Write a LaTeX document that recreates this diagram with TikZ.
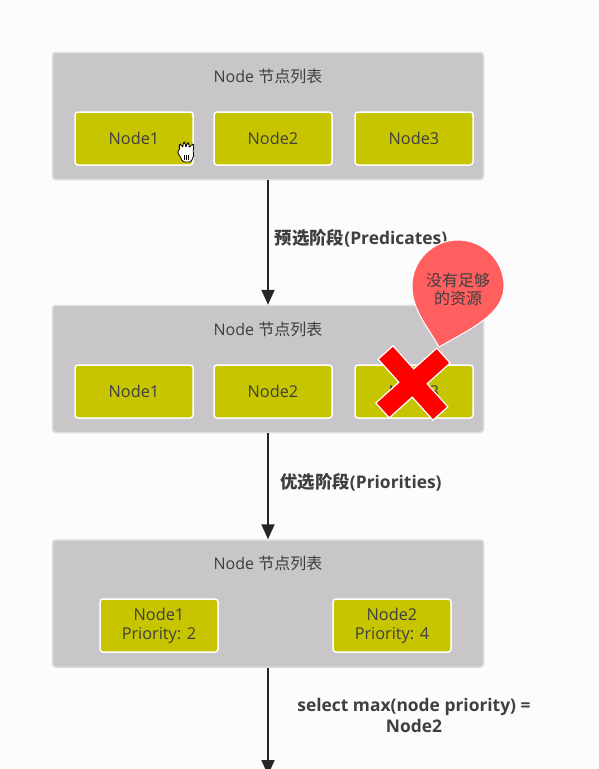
\documentclass[tikz,border=0pt]{standalone}
\usepackage{fontspec}
\setmainfont{Open Sans}
\newfontfamily\cjk{Noto Sans CJK SC}
\usepackage{xcolor}
\usetikzlibrary{arrows.meta}

\definecolor{PanelGray}{HTML}{C8C6C8}
\definecolor{PanelEdge}{HTML}{DEDDDE}
\definecolor{NodeOlive}{HTML}{C7C500}
\definecolor{TextDark}{HTML}{3F3F3F}
\definecolor{PinRed}{HTML}{FF5F5F}

\tikzset{
	panel/.style={draw=PanelEdge, fill=PanelGray, line width=1.5pt, rounded corners=3pt, minimum width=431pt, minimum height=127pt},
	nodebox/.style={draw=white, fill=NodeOlive, line width=1.5pt, rounded corners=3pt, minimum width=118pt, minimum height=53pt, text=TextDark, font=\fontsize{16.3}{19}\selectfont, align=center, inner sep=0pt},
	title/.style={text=TextDark, font=\fontsize{16}{19}\selectfont, inner sep=0pt},
	steplabel/.style={text=TextDark, font=\fontsize{17.4}{21}\selectfont\bfseries, align=center, inner sep=0pt},
	flow/.style={draw=black!85, line width=2pt, -{Triangle[length=15pt, width=13pt]}}
}

\begin{document}
\begin{tikzpicture}[x=1pt, y=-1pt]
	\clip (0,0) rectangle (599,769);
	\fill[white!99!black] (0,0) rectangle (599,769);

	\coordinate (End) at (268,775);

	% first list
	\node[panel] (ListA) at (268,116) {};
	\node[title] (TitleA) at (268,76) {Node {\cjk 节点列表}};
	\node[nodebox] (A1) at (134,138.5) {Node1};
	\node[nodebox] (A2) at (273,138.5) {Node2};
	\node[nodebox] (A3) at (414,138.5) {Node3};

	% second list
	\node[panel] (ListB) at (268,369) {};
	\node[title] (TitleB) at (268,329) {Node {\cjk 节点列表}};
	\node[nodebox] (B1) at (134,391.5) {Node1};
	\node[nodebox] (B2) at (273,391.5) {Node2};
	\node[nodebox] (B3) at (414,391.5) {Node3};

	% third list
	\node[panel] (ListC) at (268,603.5) {};
	\node[title] (TitleC) at (268,563) {Node {\cjk 节点列表}};
	\node[nodebox] (C1) at (159,625.5) {Node1\\Priority: 2};
	\node[nodebox] (C2) at (392,625.5) {Node2\\Priority: 4};

	\draw[flow] (ListA) -- (ListB);
	\draw[flow] (ListB) -- (ListC);
	\draw[flow] (ListC) -- (End);

	\node[steplabel] (LabelA) at (361,238) {{\cjk\bfseries 预选阶段}(Predicates)};
	\node[steplabel] (LabelB) at (361,482) {{\cjk\bfseries 优选阶段}(Priorities)};
	\node[steplabel] (LabelC) at (414,715) {select max(node priority) =\\Node2};

	% speech pin
	\filldraw[fill=PinRed, draw=white, line width=1pt] (439,347) .. controls (428,327) and (412,310) .. (412,286)
		arc[start angle=180, end angle=0, x radius=46, y radius=-46]
		.. controls (504,314) and (472,328) .. (439,347);
	\node[title, align=center, font=\fontsize{16}{18}\selectfont] (PinText) at (458,289) {\cjk 没有足够\\\cjk 的资源};

	% red cross
	\begin{scope}[shift={(413,383)}, rotate=-48]
		\filldraw[fill=red, draw=white, line width=1.2pt] (-10,-41) -- (10,-41) -- (10,-10) -- (41,-10) -- (41,10) -- (10,10)
			-- (10,41) -- (-10,41) -- (-10,10) -- (-41,10) -- (-41,-10) -- (-10,-10) -- cycle;
	\end{scope}

	% hand cursor
	\begin{scope}[shift={(186,152)}]
		\filldraw[fill=white, draw=black, line width=0.8pt, rounded corners=1.5pt] (-9,-1) -- (-6,-2) -- (-7,-7) -- (-5,-8) -- (-3,-4) -- (-3,-9) -- (-1,-10) -- (0,-4)
			-- (1,-9) -- (3,-9) -- (3,-4) -- (6,-8) -- (8,-7) -- (7,0) -- (8,3) -- (5,10) -- (-3,10) -- cycle;
		\foreach \i in {-2,0,2}
			\draw[black, line width=0.7pt] (\i,3) -- (\i,8);
	\end{scope}

\end{tikzpicture}
\end{document}
